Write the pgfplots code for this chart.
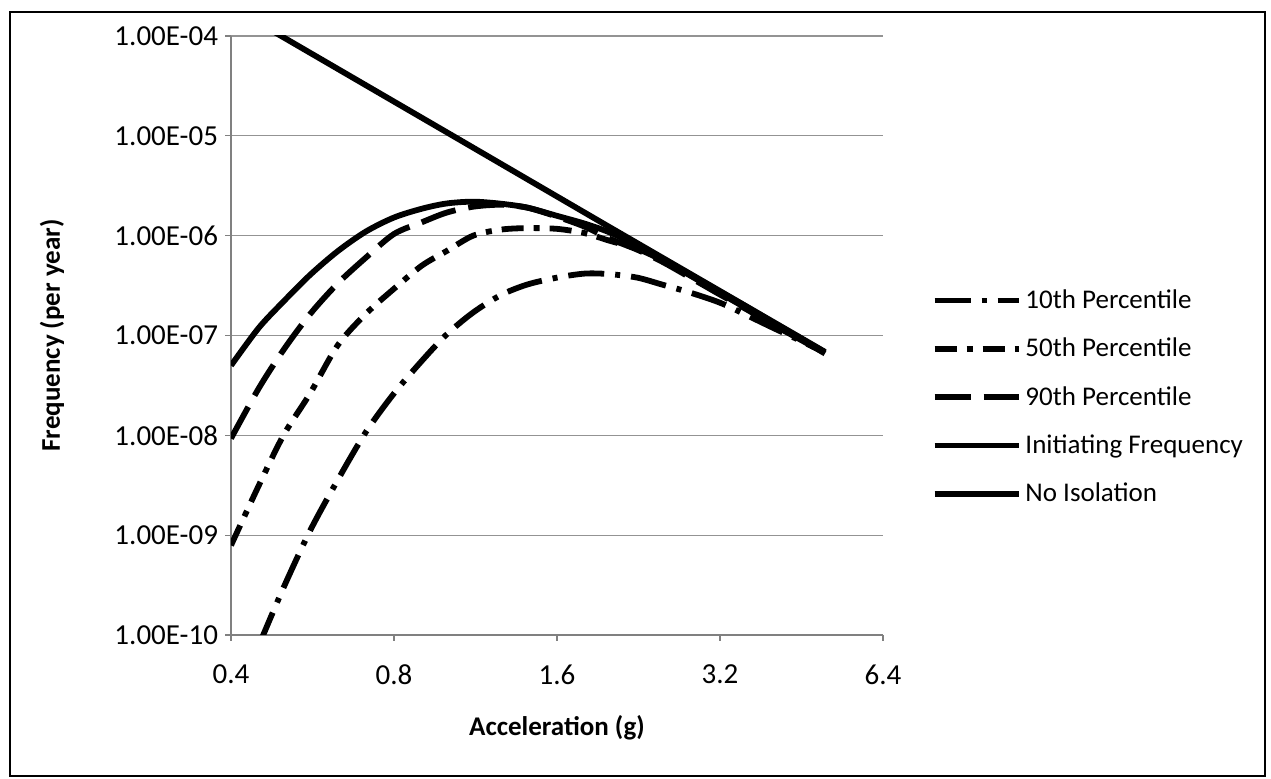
\documentclass[border=0pt]{standalone}
\usepackage{fontspec}
\setmainfont{Carlito}
\usepackage{pgfplots}
\pgfplotsset{compat=1.18}

\begin{document}
\begin{tikzpicture}
\useasboundingbox (-115.5pt,-72pt) rectangle (520pt,317.5pt);
\begin{axis}[
    scale only axis,
    width=326pt, height=299.5pt,
    xmode=log, log basis x=2, ymode=log,
    xmin=0.4, xmax=6.4, ymin=1e-10, ymax=1e-4,
    xtick={0.4,0.8,1.6,3.2,6.4},
    xticklabels={0.4,0.8,1.6,3.2,6.4},
    ytick={1e-10,1e-9,1e-8,1e-7,1e-6,1e-5,1e-4},
    yticklabels={1.00E-10,1.00E-09,1.00E-08,1.00E-07,1.00E-06,1.00E-05,1.00E-04},
    xminorticks=false, yminorticks=false,
    axis lines*=left,
    axis line style={gray, line width=0.6pt},
    tick style={gray, line width=0.6pt},
    major tick length=3pt,
    tick align=outside,
    ymajorgrids,
    grid style={gray!85, line width=0.6pt},
    ticklabel style={font=\fontsize{14.5}{17}\selectfont},
    xticklabel style={yshift=-8.5pt},
    xlabel={\bfseries Acceleration (g)},
    ylabel={\bfseries Frequency (per year)},
    xlabel style={at={(axis description cs:0.5,-0.155)}, anchor=center,
        font=\fontsize{13.5}{16}\selectfont},
    ylabel style={at={(axis description cs:-0.2745,0.5)}, rotate=0, anchor=center,
        font=\fontsize{13.5}{16}\selectfont},
    legend style={at={(1.074,0.397)}, anchor=west, draw=none, fill=none,
        font=\fontsize{13.5}{16}\selectfont, row sep=9.3pt, inner sep=0pt},
    legend cell align=left,
    legend image code/.code={\draw[#1] (0pt,0pt) -- (42pt,0pt);},
]
% 10th percentile
\addplot[black, line width=2.9pt, smooth, dash pattern=on 18pt off 5.5pt on 2.5pt off 5.5pt] coordinates {
    (0.45,7.8e-11) (0.5,2.97e-10) (0.56,1.11e-9) (0.63,3.58e-9) (0.71,1.08e-8)
    (0.8,2.63e-8) (0.9,5.55e-8) (1.0,1.02e-7) (1.12,1.70e-7) (1.26,2.54e-7)
    (1.41,3.24e-7) (1.6,3.80e-7) (1.8,4.17e-7) (2.0,4.12e-7) (2.25,3.80e-7)
    (2.5,3.24e-7) (2.8,2.72e-7) (3.2,2.13e-7) (3.6,1.58e-7) (4.0,1.20e-7)
    (4.5,8.9e-8) (5.0,6.76e-8)
};
\addlegendentry{10th Percentile}
% 50th percentile
\addplot[black, line width=2.9pt, smooth, dash pattern=on 11pt off 5pt on 3pt off 5pt] coordinates {
    (0.4,7.9e-10) (0.45,3.13e-9) (0.5,1.0e-8) (0.56,2.63e-8) (0.63,8.0e-8)
    (0.71,1.65e-7) (0.8,2.94e-7) (0.9,5.0e-7) (1.0,7.0e-7) (1.12,1.0e-6)
    (1.26,1.15e-6) (1.41,1.19e-6) (1.6,1.17e-6) (1.8,1.06e-6) (2.0,8.9e-7)
    (2.25,7.4e-7) (2.5,5.69e-7) (2.8,4.07e-7) (3.2,2.66e-7) (3.6,1.84e-7)
    (4.0,1.32e-7) (4.5,9.2e-8) (5.0,6.6e-8)
};
\addlegendentry{50th Percentile}
% 90th percentile
\addplot[black, line width=2.9pt, smooth, dash pattern=on 18pt off 6.5pt] coordinates {
    (0.4,9.3e-9) (0.45,2.95e-8) (0.5,7.16e-8) (0.56,1.64e-7) (0.63,3.33e-7)
    (0.71,6.03e-7) (0.8,1.04e-6) (0.9,1.36e-6) (1.0,1.70e-6) (1.12,1.95e-6)
    (1.26,2.04e-6) (1.41,1.91e-6) (1.6,1.55e-6) (1.8,1.23e-6) (2.0,9.33e-7)
    (2.25,7.24e-7) (2.5,5.5e-7) (2.8,3.89e-7) (3.2,2.57e-7) (3.6,1.80e-7)
    (4.0,1.29e-7) (4.5,9.12e-8) (5.0,6.6e-8)
};
\addlegendentry{90th Percentile}
% initiating frequency
\addplot[black, line width=2.9pt] coordinates {
    (0.4,1.96e-4) (1.0,1.09e-5) (2.0,1.22e-6) (5.0,6.86e-8)
};
\addlegendentry{Initiating Frequency}
% no isolation
\addplot[black, line width=2.9pt, smooth] coordinates {
    (0.4,5.0e-8) (0.45,1.19e-7) (0.5,2.19e-7) (0.56,4.05e-7) (0.63,7.0e-7)
    (0.71,1.10e-6) (0.8,1.52e-6) (0.9,1.86e-6) (1.0,2.10e-6) (1.12,2.19e-6)
    (1.26,2.09e-6) (1.41,1.91e-6) (1.6,1.58e-6) (1.8,1.32e-6) (2.0,1.08e-6)
    (2.25,8.0e-7) (2.5,5.92e-7) (2.8,4.17e-7) (3.2,2.75e-7) (3.6,1.91e-7)
    (4.0,1.36e-7) (4.5,9.44e-8) (5.0,6.76e-8)
};
\addlegendentry{No Isolation}
\end{axis}
\draw[line width=1.25pt] (-110.5pt,-70.5pt) rectangle (517pt,311.5pt);
\end{tikzpicture}
\end{document}
